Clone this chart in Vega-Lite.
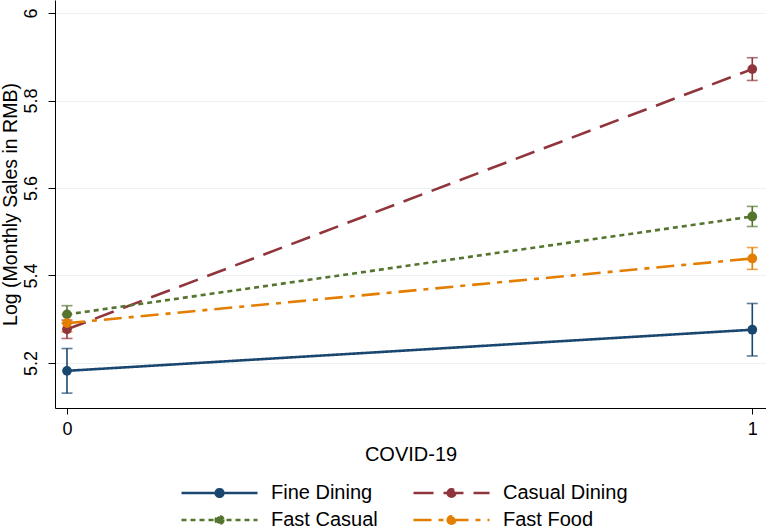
{
  "$schema": "https://vega.github.io/schema/vega-lite/v6.json",
  "width": 711,
  "height": 408,
  "autosize": {"type": "none"},
  "padding": {"left": 55, "top": 0, "right": 0, "bottom": 123},
  "background": "white",
  "config": {
    "view": {"stroke": null},
    "font": "Liberation Sans",
    "axis": {"domainColor": "#000000", "tickColor": "#000000", "labelColor": "#000000", "titleColor": "#000000", "labelFont": "Liberation Sans", "titleFont": "Liberation Sans", "titleFontWeight": "normal"}
  },
  "data": {
    "values": [
      {"group": "Fine Dining", "covid": 0, "y": 5.182, "lo": 5.131, "hi": 5.233},
      {"group": "Fine Dining", "covid": 1, "y": 5.276, "lo": 5.216, "hi": 5.336},
      {"group": "Casual Dining", "covid": 0, "y": 5.277, "lo": 5.256, "hi": 5.298},
      {"group": "Casual Dining", "covid": 1, "y": 5.872, "lo": 5.846, "hi": 5.898},
      {"group": "Fast Casual", "covid": 0, "y": 5.311, "lo": 5.291, "hi": 5.331},
      {"group": "Fast Casual", "covid": 1, "y": 5.535, "lo": 5.512, "hi": 5.558},
      {"group": "Fast Food", "covid": 0, "y": 5.291, "lo": 5.271, "hi": 5.311},
      {"group": "Fast Food", "covid": 1, "y": 5.439, "lo": 5.414, "hi": 5.464}
    ]
  },
  "encoding": {
    "x": {
      "field": "covid", "type": "quantitative",
      "scale": {"domain": [-0.0175, 1.02], "nice": false, "zero": false},
      "axis": {"values": [0, 1], "format": "d", "grid": false, "title": "COVID-19", "tickSize": 6, "labelFontSize": 18, "labelPadding": 6, "titleFontSize": 20, "titlePadding": 6, "domainWidth": 1}
    },
    "color": {
      "field": "group", "type": "nominal",
      "scale": {"domain": ["Fine Dining", "Casual Dining", "Fast Casual", "Fast Food"], "range": ["#1a476f", "#90353b", "#55752f", "#e37e00"]},
      "legend": {
        "title": null,
        "orient": "none",
        "legendX": 125,
        "legendY": 483,
        "direction": "horizontal",
        "columns": 2,
        "columnPadding": 34,
        "rowPadding": 7,
        "clipHeight": 20,
        "symbolType": "M-1,0H1M0.1,0A0.1,0.1 0 1,1 -0.1,0A0.1,0.1 0 1,1 0.1,0Z",
        "symbolSize": 5776,
        "symbolStrokeWidth": 2.6,
        "labelFontSize": 20,
        "labelFont": "Liberation Sans",
        "labelColor": "#000000",
        "labelOffset": 12,
        "encode": {"symbols": {"update": {"fill": {"scale": "color", "field": "value"}, "fillOpacity": {"value": 1}}}}
      }
    }
  },
  "layer": [
    {
      "mark": {"type": "rule", "strokeWidth": 1.6},
      "encoding": {
        "y": {"field": "lo", "type": "quantitative"},
        "y2": {"field": "hi"}
      }
    },
    {
      "mark": {"type": "tick", "orient": "horizontal", "size": 11, "thickness": 1.6},
      "encoding": {
        "y": {"field": "lo", "type": "quantitative"}
      }
    },
    {
      "mark": {"type": "tick", "orient": "horizontal", "size": 11, "thickness": 1.6},
      "encoding": {
        "y": {"field": "hi", "type": "quantitative"}
      }
    },
    {
      "mark": {"type": "line", "strokeWidth": 2.6},
      "encoding": {
        "y": {
          "field": "y", "type": "quantitative",
          "scale": {"domain": [5.097, 6.03], "nice": false, "zero": false},
          "axis": {"values": [5.2, 5.4, 5.6, 5.8, 6], "labelExpr": "datum.value == 6 ? '6' : format(datum.value, '.1f')", "title": "Log (Monthly Sales in RMB)", "grid": true, "gridColor": "#eaf2f3", "gridWidth": 1, "tickSize": 7, "labelAngle": -90, "labelAlign": "center", "labelBaseline": "bottom", "labelPadding": 8, "labelFontSize": 18, "titleFontSize": 19.5, "titlePadding": 2, "domainWidth": 1}
        },
        "strokeDash": {
          "field": "group", "type": "nominal",
          "scale": {"domain": ["Fine Dining", "Casual Dining", "Fast Casual", "Fast Food"], "range": [[1, 0], [20, 10], [5, 4], [18, 7, 5, 7]]}
        }
      }
    },
    {
      "mark": {"type": "point", "filled": true, "shape": "circle", "size": 95, "opacity": 1},
      "encoding": {
        "y": {"field": "y", "type": "quantitative"}
      }
    }
  ]
}
